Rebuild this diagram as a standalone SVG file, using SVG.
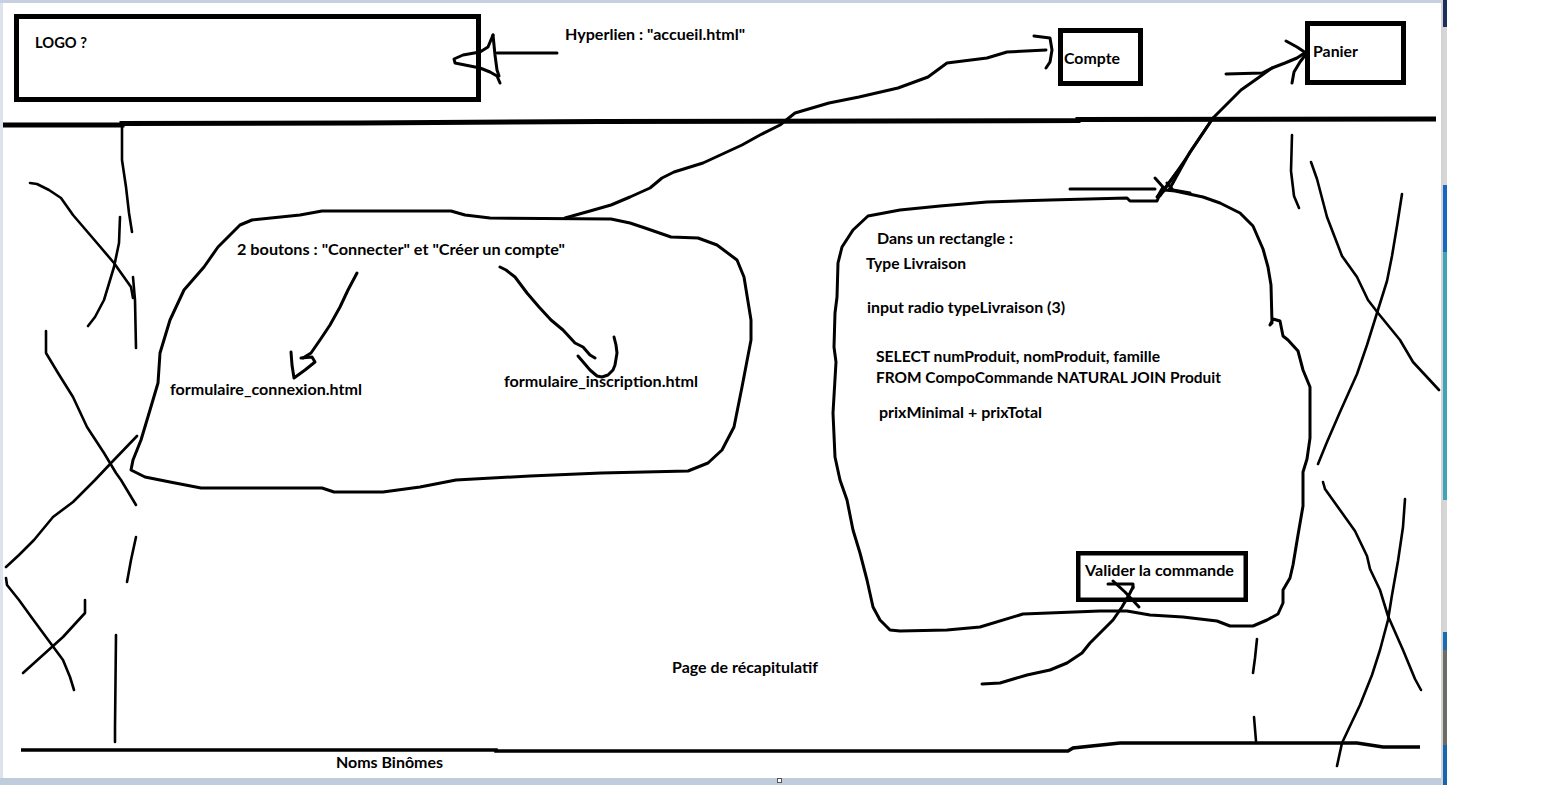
<svg xmlns="http://www.w3.org/2000/svg" width="1552" height="785" viewBox="0 0 1552 785">
<style>
.ink{fill:none;stroke:#000;stroke-width:3;stroke-linejoin:round;stroke-linecap:round}
.thin{fill:none;stroke:#000;stroke-width:2.6;stroke-linejoin:round;stroke-linecap:round}
.box{fill:none;stroke:#000;stroke-width:5}
.t{font-family:Lato,"Liberation Sans",Arial,sans-serif;font-weight:700;font-size:15px;fill:#000}
</style>
<rect x="0" y="0" width="1552" height="785" fill="#fff"/>
<g id="frame">
<rect x="0" y="0" width="1441" height="3" fill="#c6d0e0"/>
<rect x="0" y="3" width="3" height="775" fill="#dce3ed"/>
<rect x="0" y="778" width="1441" height="7" fill="#bfccdc"/>
<rect x="1441" y="0" width="2" height="785" fill="#d3d3d3"/>
<rect x="1443" y="0" width="4" height="27" fill="#1b2f5e"/>
<rect x="1443" y="27" width="4" height="158" fill="#d6d6d6"/>
<rect x="1443" y="185" width="4" height="67" fill="#1766c2"/>
<rect x="1443" y="252" width="4" height="248" fill="#3ea4b6"/>
<rect x="1443" y="500" width="4" height="132" fill="#d6d6d6"/>
<rect x="1443" y="632" width="4" height="18" fill="#1a6bb0"/>
<rect x="1443" y="650" width="4" height="95" fill="#6b6b68"/>
<rect x="1443" y="745" width="4" height="40" fill="#1766b0"/>
<rect x="777.5" y="778.5" width="4" height="4" fill="#fff" stroke="#555" stroke-width="1"/>
</g>
<g id="layout-lines">
<path d="M3,125 L122,125 L122,123.5 L360,123 L600,121.5 L1078,120.5 L1078,119.5 L1436,119" fill="none" stroke="#000" stroke-width="5"/>
<path d="M21,750 L496,750 L496,751 L1068,751 L1073,748 L1120,743 L1357,743 L1383,747 L1420,747" fill="none" stroke="#000" stroke-width="3.5"/>
</g>
<g id="logo">
<rect class="box" x="16.5" y="16.5" width="462" height="83"/>
<text class="t" x="35" y="48" textLength="52" lengthAdjust="spacingAndGlyphs">LOGO ?</text>
</g>
<g id="hyperlien-label">
<text class="t" x="565" y="40" textLength="180" lengthAdjust="spacingAndGlyphs">Hyperlien : "accueil.html"</text>
</g>
<g id="compte">
<rect class="box" x="1060.5" y="30.5" width="80" height="53"/>
<text class="t" x="1064" y="64" textLength="56" lengthAdjust="spacingAndGlyphs">Compte</text>
</g>
<g id="panier">
<rect class="box" x="1307.5" y="23.5" width="96" height="59"/>
<text class="t" x="1313" y="57" textLength="45" lengthAdjust="spacingAndGlyphs">Panier</text>
</g>
<g id="zone-connexion">
<path class="ink" d="M240,225 L252,220 L300,215 L322,211 L451,211 L465,215 L490,218 L611,219 L630,223 L645,228 L671,237 L698,238 L717,245 L737,260 L744,277 L751,320 L751,340 L742,387 L734,427 L722,450 L708,463 L688,471 L601,473 L530,476 L456,480 L420,487 L383,492 L334,492 L322,488 L201,488 L170,482 L145,477 L131,470 L133,460 L141,440 L150,410 L158,383 L160,353 L170,320 L184,290 L204,267 L218,247 L228,237 Z"/>
<text class="t" x="237" y="255" textLength="328" lengthAdjust="spacingAndGlyphs">2 boutons : "Connecter" et "Créer un compte"</text>
<text class="t" x="170" y="395" textLength="192" lengthAdjust="spacingAndGlyphs">formulaire_connexion.html</text>
<text class="t" x="504" y="387" textLength="194" lengthAdjust="spacingAndGlyphs">formulaire_inscription.html</text>
</g>
<g id="zone-commande">
<path class="ink" d="M868,216 L900,210 L940,206 L987,202 L1050,200 L1127,198 L1130,201 L1157,201 L1160,194 L1165,190 L1175,191 L1203,197 L1220,203 L1240,213 L1253,226 L1263,249 L1268,267 L1271,285 L1272,323 L1270,325 L1273,319 L1280,321 L1283,336 L1288,340 L1298,351 L1303,370 L1310,387 L1310,438 L1307,459 L1303,472 L1303,506 L1298,535 L1293,565 L1290,578 L1283,590 L1283,603 L1278,614 L1267,620 L1253,626 L1230,626 L1217,621 L1183,617 L1150,615 L1127,611 L1100,611 L1023,614 L980,627 L947,630 L900,631 L890,630 L880,620 L873,607 L867,580 L860,553 L853,530 L847,500 L840,480 L835,457 L833,413 L836,362 L834,347 L835,313 L837,297 L838,263 L842,247 L853,230 Z"/>
<text class="t" x="877" y="244" textLength="136" lengthAdjust="spacingAndGlyphs">Dans un rectangle :</text>
<text class="t" x="866" y="269" textLength="100" lengthAdjust="spacingAndGlyphs">Type Livraison</text>
<text class="t" x="867" y="313" textLength="198" lengthAdjust="spacingAndGlyphs">input radio typeLivraison (3)</text>
<text class="t" x="876" y="362" textLength="284" lengthAdjust="spacingAndGlyphs">SELECT numProduit, nomProduit, famille</text>
<text class="t" x="876" y="383" textLength="345" lengthAdjust="spacingAndGlyphs">FROM CompoCommande NATURAL JOIN Produit</text>
<text class="t" x="879" y="418" textLength="163" lengthAdjust="spacingAndGlyphs">prixMinimal + prixTotal</text>
</g>
<g id="valider">
<rect x="1078.25" y="553.25" width="167.5" height="46.5" fill="none" stroke="#000" stroke-width="4.5"/>
<text class="t" x="1085" y="576" textLength="149" lengthAdjust="spacingAndGlyphs">Valider la commande</text>
</g>
<g id="labels">
<text class="t" x="672" y="673" textLength="146" lengthAdjust="spacingAndGlyphs">Page de récapitulatif</text>
<text class="t" x="336" y="768" textLength="107" lengthAdjust="spacingAndGlyphs">Noms Binômes</text>
</g>
<g id="connectors">
<path class="ink" stroke-width="3.4" d="M557,53 L497,53"/>
<path class="ink" d="M493,35 L488,47 L480,52 L463,55 L454,59 L455,63 L465,65 L480,68 L490,72 L497,76 L500,83"/>
<path class="ink" d="M493,35 L495,55 L497,70 L499,76"/>
<path class="ink" d="M565,218 L590,211 L611,205 L630,197 L650,188 L662,178 L674,172 L703,163 L742,145 L760,135 L780,125 L795,113 L829,103 L859,97 L898,88 L928,77 L947,63 L987,58 L1007,52 L1046,50"/>
<path class="ink" d="M1034,36 L1050,38 L1052,50 L1050,62 L1046,68"/>
<path class="ink" d="M1169,190 L1190,152 L1213,118 L1241,90 L1258,78 L1272,68 L1285,63 L1297,58 L1306,52"/>
<path class="ink" d="M1160,196 L1185,160 L1213,118"/>
<path class="ink" d="M1226,74 L1262,73 L1272,68"/>
<path class="ink" d="M1286,41 L1297,47 L1306,53"/>
<path class="ink" d="M1292,83 L1294,72 L1300,62 L1306,54"/>
<path class="ink" d="M1070,189 L1155,189"/>
<path class="ink" d="M1155,178 L1163,187 L1158,196"/>
<path class="ink" d="M1177,172 L1165,188 L1157,197"/>
<path class="ink" d="M1167,183 L1173,190 L1190,193"/>
<path class="ink" d="M357,273 L348,290 L340,307 L330,325 L320,340 L311,353 L303,358"/>
<path class="ink" d="M291,352 L292,365 L294,378 L305,370 L315,362 L312,357 L301,358"/>
<path class="ink" d="M500,267 L506,270 L515,277 L527,293 L539,307 L551,320 L563,330 L575,343 L583,347 L590,355 L595,358"/>
<path class="ink" d="M614,337 L616,345 L617,353 L615,365 L613,370 L608,375 L602,377 L597,376 L590,370 L584,363 L578,356"/>
<path class="ink" d="M982,684 L1000,683 L1027,675 L1050,670 L1067,663 L1082,653 L1090,643 L1100,633 L1113,620 L1122,607 L1130,593 L1133,587"/>
<path class="ink" d="M1108,584 L1133,584 L1133,588"/>
<path class="ink" d="M1113,581 L1125,592 L1139,607"/>
</g>
<g id="scribbles">
<path class="thin" d="M122,125 L122,160 L126,187 L129,213 L132,232"/>
<path class="thin" d="M30,183 L37,184 L49,190 L61,198 L73,215 L97,243 L114,263 L131,287 L133,298"/>
<path class="thin" d="M120,217 L119,243 L114,267 L104,300 L95,317 L88,326"/>
<path class="thin" d="M133,277 L135,300 L136,348"/>
<path class="thin" d="M46,331 L46,353 L58,373 L73,397 L87,427 L104,453 L116,473 L121,480 L136,505"/>
<path class="thin" d="M137,436 L112,462 L95,480 L73,502 L53,517 L34,540 L19,555 L6,567"/>
<path class="thin" d="M136,537 L131,560 L127,582"/>
<path class="thin" d="M6,578 L7,585 L19,600 L32,618 L46,637 L63,660 L70,677 L74,690"/>
<path class="thin" d="M85,600 L85,613 L63,637 L23,673"/>
<path class="thin" d="M116,635 L115,727 L115,742"/>
<path class="thin" d="M1292,135 L1291,171 L1294,196 L1299,208"/>
<path class="thin" d="M1311,162 L1317,179 L1327,217 L1342,256 L1357,277 L1368,300 L1378,313 L1400,340 L1413,362 L1439,390"/>
<path class="thin" d="M1402,194 L1397,226 L1392,256 L1387,281 L1377,313 L1367,345 L1357,374 L1340,412 L1327,442 L1318,464"/>
<path class="thin" d="M1323,482 L1325,489 L1340,510 L1355,531 L1367,556 L1370,569 L1380,590 L1388,616 L1403,650 L1415,679 L1421,690"/>
<path class="thin" d="M1405,499 L1403,527 L1398,561 L1392,595 L1388,620 L1380,650 L1372,675 L1360,705 L1350,726 L1342,743 L1337,766"/>
<path class="thin" d="M1257,639 L1255,658 L1253,673"/>
<path class="thin" d="M1254,717 L1256,741"/>
</g>
</svg>
